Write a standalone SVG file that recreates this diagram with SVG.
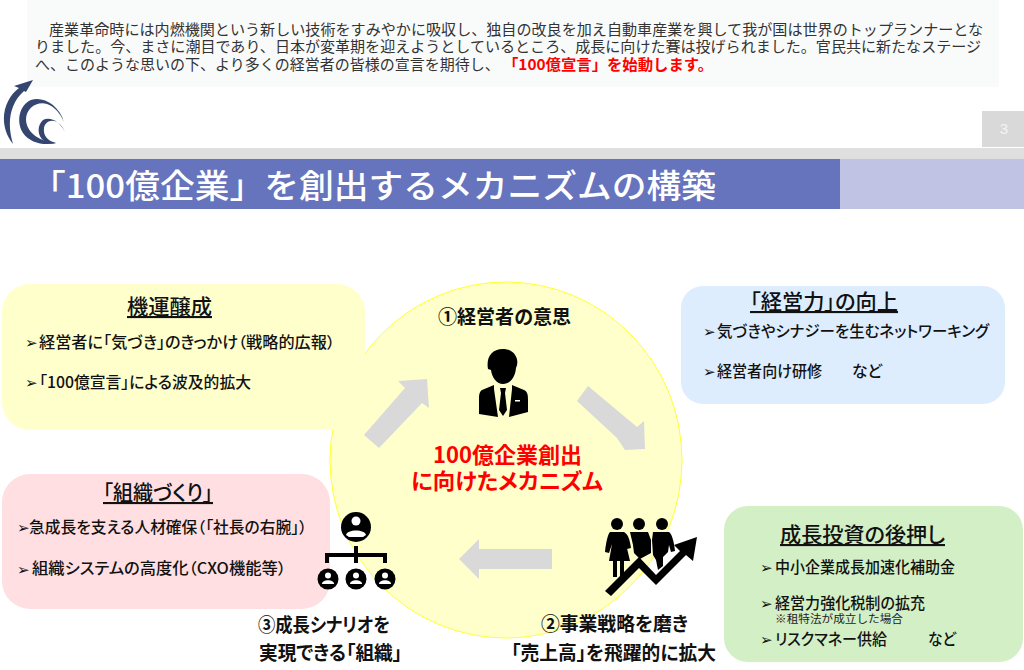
<svg xmlns="http://www.w3.org/2000/svg" width="1024" height="670" viewBox="0 0 1024 670">
<style>
text{font-family:"Noto Sans CJK JP","Noto Sans",sans-serif;fill:#111}
.in{font-size:15px;fill:#333}
.h{font-size:21px;font-weight:500;text-anchor:start;text-decoration:underline;font-feature-settings:"palt"}
.b{font-size:15.5px;font-weight:500;font-feature-settings:"palt"}
.m{font-family:"DejaVu Sans",sans-serif;font-size:15px}
.c{font-size:19.5px;font-weight:700;font-feature-settings:"palt"}
.r{font-size:22px;font-weight:700;fill:#f00;font-feature-settings:"palt"}
.ar{fill:#d9d9d9}
.k{fill:#000}
.w{fill:#fff}
</style>
<rect width="1024" height="670" fill="#fff"/>
<g id="intro">
<rect x="27" y="0" width="972" height="87" fill="#f9fafa"/>
<text class="in" x="49" y="35" textLength="934" lengthAdjust="spacingAndGlyphs">産業革命時には内燃機関という新しい技術をすみやかに吸収し、独自の改良を加え自動車産業を興して我が国は世界のトップランナーとな</text>
<text class="in" x="35" y="52" textLength="946" lengthAdjust="spacingAndGlyphs">りました。今、まさに潮目であり、日本が変革期を迎えようとしているところ、成長に向けた賽は投げられました。官民共に新たなステージ</text>
<text class="in" x="35" y="70">へ、このような思いの下、より多くの経営者の皆様の宣言を期待し、</text>
<text class="in" x="503" y="70" textLength="210" lengthAdjust="spacingAndGlyphs" style="fill:#f00;font-weight:700">「100億宣言」を始動します。</text>
</g>
<g id="logo" fill="#34466f">
<path d="M33 80 L14 86 L19 88 C4 99 -3 124 13 144 C7 125 9 104 24 91 L26 92Z"/>
<path d="M64 122 C59 105 43 96 31 100 C19 105 16 122 23 133 C30 143 44 146 56 143 C43 142 27 135 26 120 C26 108 37 101 47 104 C55 107 60 113 64 122Z"/>
<path d="M65 132 C61 122 50 116 43 120 C37 125 37 136 44 141 C48 144 52 144 56 143 C48 141 43 136 44 128 C45 122 51 119 57 122 C60 124 62 127 65 132Z"/>
</g>
<g id="header">
<rect x="0" y="148" width="1024" height="11" fill="#dfdfdf"/>
<rect x="0" y="159" width="840" height="50" fill="#6574bd"/>
<rect x="840" y="159" width="184" height="50" fill="#c0c3e3"/>
<text x="31" y="198" textLength="685" lengthAdjust="spacingAndGlyphs" style="font-size:33px;font-weight:500;fill:#fff">「100億企業」を創出するメカニズムの構築</text>
</g>
<g id="page">
<rect x="982" y="111" width="42" height="36" fill="#d9d9d9"/>
<text x="1004" y="134" text-anchor="middle" style="font-size:15px;fill:#f4f4f4;font-family:'Liberation Sans',sans-serif">3</text>
</g>
<g id="mechanism">
<ellipse cx="506" cy="460" rx="176" ry="178" fill="#ffffcc" stroke="#ffff33" stroke-width="1"/>
<text class="c" x="438" y="324" textLength="133" lengthAdjust="spacingAndGlyphs">①経営者の意思</text>
<text class="r" x="433" y="463" textLength="149" lengthAdjust="spacingAndGlyphs">100億企業創出</text>
<text class="r" x="411" y="489" textLength="192" lengthAdjust="spacingAndGlyphs">に向けたメカニズム</text>
</g>
<g id="connectors" class="ar">
<polygon points="364,435 379,448 422,403 429,408 427,379 398,381 405,388"/>
<polygon points="588,386 577,401 617,438 625,450 645,449 644,421 637,427"/>
<polygon points="459,559 479,539 479,549 552,549 552,569 479,569 479,579"/>
</g>
<g id="box-kiun">
<rect x="2" y="284" width="363" height="146" rx="28" fill="#ffffcc"/>
<text class="h" x="127" y="314" textLength="85" lengthAdjust="spacingAndGlyphs">機運醸成</text>
<text class="m" x="25" y="348">➢</text>
<text class="b" x="39" y="348" textLength="296" lengthAdjust="spacingAndGlyphs">経営者に「気づき」のきっかけ（戦略的広報）</text>
<text class="m" x="25" y="388">➢</text>
<text class="b" x="39" y="388" textLength="212" lengthAdjust="spacingAndGlyphs">「100億宣言」による波及的拡大</text>
</g>
<g id="box-keiei">
<rect x="681" y="286" width="324" height="118" rx="22" fill="#ddedfd"/>
<text class="h" x="750" y="309" textLength="148" lengthAdjust="spacingAndGlyphs">「経営力」の向上</text>
<text class="m" x="703" y="337">➢</text>
<text class="b" x="717" y="337" textLength="272" lengthAdjust="spacingAndGlyphs">気づきやシナジーを生むネットワーキング</text>
<text class="m" x="703" y="377">➢</text>
<text class="b" x="717" y="377" textLength="105" lengthAdjust="spacingAndGlyphs">経営者向け研修</text>
<text class="b" x="852" y="377" textLength="30" lengthAdjust="spacingAndGlyphs">など</text>
</g>
<g id="box-soshiki">
<rect x="2" y="474" width="328" height="135" rx="28" fill="#ffdfe1"/>
<text class="h" x="103" y="500" textLength="110" lengthAdjust="spacingAndGlyphs">「組織づくり」</text>
<text class="m" x="17" y="533">➢</text>
<text class="b" x="29" y="533" textLength="278" lengthAdjust="spacingAndGlyphs">急成長を支える人材確保（「社長の右腕」）</text>
<text class="m" x="17" y="575">➢</text>
<text class="b" x="32" y="574" textLength="254" lengthAdjust="spacingAndGlyphs">組織システムの高度化（CXO機能等）</text>
</g>
<g id="box-toshi">
<rect x="724" y="506" width="299" height="156" rx="24" fill="#d3efc5"/>
<text class="h" x="780" y="542" textLength="165" lengthAdjust="spacingAndGlyphs">成長投資の後押し</text>
<text class="m" x="760" y="573">➢</text>
<text class="b" x="775" y="573" textLength="180" lengthAdjust="spacingAndGlyphs">中小企業成長加速化補助金</text>
<text class="m" x="760" y="609">➢</text>
<text class="b" x="775" y="609" textLength="150" lengthAdjust="spacingAndGlyphs">経営力強化税制の拡充</text>
<text x="775" y="623" textLength="128" lengthAdjust="spacingAndGlyphs" style="font-size:11px;fill:#222">※租特法が成立した場合</text>
<text class="m" x="760" y="645">➢</text>
<text class="b" x="775" y="645" textLength="112" lengthAdjust="spacingAndGlyphs">リスクマネー供給</text>
<text class="b" x="928" y="645" textLength="28" lengthAdjust="spacingAndGlyphs">など</text>
</g>
<g id="icon-person">
<path class="k" d="M503 349 C491 349 486 358 488 369 L491 370 C492 378 497 384 503 384 C510 384 515 378 516 368 C520 360 515 349 503 349Z"/>
<path class="k" d="M494 385 L482 390 C479 392 479 396 479 400 L479 414 L498 417 L494 389Z M512 385 L524 390 C528 392 528 396 528 400 L528 412 L509 417 L512 389Z"/>
<path class="k" d="M500 388 L506 388 L505 393 L507 410 L503 416 L499 410 L501 393Z"/>
<rect class="w" x="515" y="400" width="5" height="1.500"/>
</g>
<g id="icon-growth">
<circle class="k" cx="617" cy="524" r="6"/><circle class="k" cx="639" cy="524" r="6"/><circle class="k" cx="662" cy="524" r="6"/>
<path class="k" d="M610 532 L624 532 C628 534 630 540 631 548 L627 549 L626 544 L630 561 L624 561 L624 577 L620 577 L620 561 L617 561 L617 577 L613 577 L613 561 L609 561 L612 544 L609 553 L605 552 C606 542 608 534 610 532Z"/>
<path class="k" d="M630 532 L648 532 L651 540 L651 553 L640 559 L634 553 L633 545Z"/>
<path class="k" d="M653 532 L669 532 C672 534 674 542 675 551 L671 552 L669 545 L668 552 L663 557 L663 566 L658 570 L656 560 L653 555 L652 540Z"/>
<polygon class="k" points="605,591 639,557 656,575 680,551 674,545 697,537 693,561 686,555 656,585 639,568 611,596"/>
</g>
<g id="icon-org">
<circle class="k" cx="356" cy="527" r="15"/>
<circle class="w" cx="356" cy="521" r="4.500"/><path class="w" d="M346 535 C347 529 365 529 366 535 L363 537 L349 537Z"/>
<path d="M356 546 L356 563 M327 563 L327 555 L385 555 L385 563" fill="none" stroke="#000" stroke-width="4"/>
<circle class="k" cx="328" cy="579" r="10.500"/><circle class="w" cx="328" cy="575.500" r="3"/><path class="w" d="M322 584 C322 579 334 579 334 584Z"/>
<circle class="k" cx="356" cy="579" r="10.500"/><circle class="w" cx="356" cy="575.500" r="3"/><path class="w" d="M350 584 C350 579 362 579 362 584Z"/>
<circle class="k" cx="385" cy="579" r="10.500"/><circle class="w" cx="385" cy="575.500" r="3"/><path class="w" d="M379 584 C379 579 391 579 391 584Z"/>
</g>
<g id="labels">
<text class="c" x="258" y="632" textLength="132" lengthAdjust="spacingAndGlyphs">③成長シナリオを</text>
<text class="c" x="259" y="660" textLength="143" lengthAdjust="spacingAndGlyphs">実現できる「組織」</text>
<text class="c" x="541" y="631" textLength="147" lengthAdjust="spacingAndGlyphs">②事業戦略を磨き</text>
<text class="c" x="511" y="660" textLength="205" lengthAdjust="spacingAndGlyphs">「売上高」を飛躍的に拡大</text>
</g>
</svg>
